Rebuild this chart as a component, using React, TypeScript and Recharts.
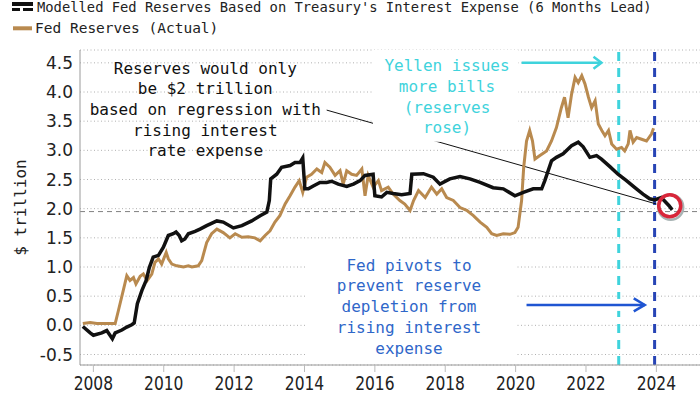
import React from 'react';
import { LineChart, Line, XAxis, YAxis, CartesianGrid, ReferenceLine, ReferenceDot, Label } from 'recharts';

const modelYears = [2007.70, 2007.91, 2008.0, 2008.24, 2008.38, 2008.54, 2008.62, 2008.81, 2008.95, 2009.09, 2009.16, 2009.25, 2009.38, 2009.5, 2009.59, 2009.7, 2009.85, 2009.99, 2010.13, 2010.27, 2010.35, 2010.44, 2010.51, 2010.6, 2010.7, 2010.89, 2011.03, 2011.22, 2011.51, 2011.69, 2011.98, 2012.22, 2012.5, 2012.74, 2012.93, 2013.0, 2013.04, 2013.21, 2013.35, 2013.59, 2013.73, 2013.87, 2013.95, 2014.01, 2014.11, 2014.25, 2014.44, 2014.63, 2014.77, 2014.96, 2015.2, 2015.39, 2015.58, 2015.72, 2015.95, 2016.0, 2016.19, 2016.34, 2016.52, 2016.76, 2017.0, 2017.05, 2017.38, 2017.66, 2017.85, 2018.13, 2018.42, 2018.7, 2018.99, 2019.36, 2019.65, 2019.98, 2020.22, 2020.5, 2020.74, 2020.83, 2021.02, 2021.16, 2021.35, 2021.59, 2021.78, 2021.92, 2022.11, 2022.3, 2022.44, 2022.68, 2022.91, 2023.15, 2023.39, 2023.62, 2023.81, 2023.95, 2024.14, 2024.36, 2024.45];
const modelValues = [-0.02, -0.13, -0.17, -0.13, -0.09, -0.23, -0.13, -0.08, -0.03, 0.01, 0.04, 0.37, 0.6, 0.77, 0.99, 1.17, 1.2, 1.34, 1.54, 1.57, 1.6, 1.54, 1.45, 1.48, 1.57, 1.61, 1.65, 1.71, 1.79, 1.77, 1.67, 1.71, 1.79, 1.88, 1.94, 2.14, 2.51, 2.59, 2.71, 2.74, 2.79, 2.79, 2.87, 2.34, 2.34, 2.39, 2.45, 2.45, 2.47, 2.42, 2.38, 2.42, 2.48, 2.57, 2.59, 2.22, 2.2, 2.28, 2.26, 2.24, 2.26, 2.59, 2.6, 2.54, 2.42, 2.51, 2.55, 2.51, 2.45, 2.36, 2.34, 2.22, 2.28, 2.34, 2.34, 2.48, 2.82, 2.88, 2.94, 3.08, 3.14, 3.06, 2.88, 2.91, 2.85, 2.72, 2.59, 2.48, 2.36, 2.25, 2.17, 2.15, 2.19, 2.05, 1.98];

const actualYears = [2007.70, 2007.91, 2008.1, 2008.38, 2008.62, 2008.71, 2008.85, 2008.95, 2009.04, 2009.14, 2009.21, 2009.33, 2009.42, 2009.53, 2009.66, 2009.75, 2009.85, 2009.94, 2010.07, 2010.13, 2010.23, 2010.37, 2010.56, 2010.7, 2010.8, 2010.98, 2011.08, 2011.22, 2011.36, 2011.51, 2011.69, 2011.88, 2012.03, 2012.22, 2012.4, 2012.59, 2012.74, 2012.88, 2013.02, 2013.16, 2013.3, 2013.45, 2013.59, 2013.73, 2013.85, 2013.95, 2014.06, 2014.2, 2014.35, 2014.49, 2014.58, 2014.72, 2014.87, 2015.01, 2015.1, 2015.2, 2015.34, 2015.48, 2015.63, 2015.72, 2015.81, 2015.95, 2016.1, 2016.19, 2016.38, 2016.52, 2016.71, 2016.85, 2017.0, 2017.1, 2017.24, 2017.43, 2017.61, 2017.76, 2017.9, 2018.04, 2018.23, 2018.42, 2018.61, 2018.8, 2018.99, 2019.18, 2019.32, 2019.46, 2019.65, 2019.84, 2019.98, 2020.07, 2020.17, 2020.23, 2020.31, 2020.4, 2020.48, 2020.55, 2020.69, 2020.88, 2021.02, 2021.16, 2021.3, 2021.39, 2021.49, 2021.59, 2021.69, 2021.78, 2021.88, 2021.97, 2022.07, 2022.16, 2022.26, 2022.35, 2022.45, 2022.54, 2022.64, 2022.73, 2022.87, 2023.01, 2023.1, 2023.2, 2023.25, 2023.34, 2023.44, 2023.58, 2023.72, 2023.86, 2023.92];
const actualValues = [0.03, 0.05, 0.03, 0.03, 0.03, 0.25, 0.6, 0.85, 0.77, 0.82, 0.71, 0.84, 0.88, 0.77, 0.88, 1.08, 1.14, 1.05, 1.25, 1.14, 1.05, 1.02, 1.0, 1.02, 1.0, 1.02, 1.11, 1.42, 1.57, 1.65, 1.59, 1.5, 1.57, 1.51, 1.52, 1.5, 1.45, 1.54, 1.62, 1.77, 1.88, 2.08, 2.22, 2.37, 2.48, 2.28, 2.54, 2.59, 2.68, 2.62, 2.79, 2.71, 2.57, 2.65, 2.42, 2.65, 2.59, 2.57, 2.68, 2.22, 2.57, 2.37, 2.48, 2.31, 2.37, 2.25, 2.14, 2.08, 1.97, 2.14, 2.31, 2.19, 2.37, 2.25, 2.34, 2.19, 2.14, 2.02, 1.97, 1.88, 1.77, 1.68, 1.57, 1.54, 1.57, 1.56, 1.59, 1.68, 2.14, 2.71, 3.16, 3.34, 3.16, 2.85, 2.91, 2.99, 3.16, 3.39, 3.73, 3.91, 3.56, 3.96, 4.25, 4.16, 4.28, 4.14, 3.91, 3.73, 3.85, 3.45, 3.34, 3.25, 3.34, 3.11, 3.02, 3.05, 2.99, 3.11, 3.34, 3.14, 3.22, 3.19, 3.16, 3.28, 3.38];

const yearTicks = [2008, 2010, 2012, 2014, 2016, 2018, 2020, 2022, 2024];
const valueTicks = [-0.5, 0, 0.5, 1, 1.5, 2, 2.5, 3, 3.5, 4, 4.5];
const legendLabels = ["Modelled Fed Reserves Based on Treasury's Interest Expense (6 Months Lead)", 'Fed Reserves (Actual)'];
const yAxisTitle = '$ trillion';
const reservesNote = ['Reserves would only', 'be $2 trillion', 'based on regression with', 'rising interest', 'rate expense'];
const yellenNote = ['Yellen issues', 'more bills', '(reserves', 'rose)'];
const fedNote = ['Fed pivots to', 'prevent reserve', 'depletion from', 'rising interest', 'expense'];
const yellenDate = 2022.93;
const pivotDate = 2023.95;
const currentLevel = 1.95;

const modelData = modelYears.map((t, i) => ({ t, v: modelValues[i] }));
const actualData = actualYears.map((t, i) => ({ t, v: actualValues[i] }));

const MONO = '"DejaVu Sans Mono", monospace';
const SANS = '"DejaVu Sans", sans-serif';
const BLACK = '#111';
const BROWN = '#b98a4f';
const CYAN = '#3fd3dc';
const BLUE_TEXT = '#2f67c9';
const BLUE_LINE = '#2744b5';
const BLUE_ARROW = '#1f55d2';

const noteShape = (lines: string[], color: string, box?: [number, number, number, number]) => (p: any) => {
  const { cx, cy } = p;
  return (
    <g>
      {box && <rect x={cx + box[0]} y={cy + box[1]} width={box[2]} height={box[3]} fill="#fff" />}
      {lines.map((s, i) => (
        <text key={i} x={cx} y={cy + i * 20.7} textAnchor="middle" dominantBaseline="central"
          fontFamily={MONO} fontSize={16} fill={color}>{s}</text>
      ))}
    </g>
  );
};

const arrowShape = (color: string, w: number, hw: number, hh: number) => (p: any) => {
  const { x1, y1, x2, y2 } = p;
  return (
    <g>
      <rect x={x1} y={y1 - 6} width={x2 - x1 + 4} height={12} fill="#fff" />
      <line x1={x1} y1={y1} x2={x2} y2={y2} stroke={color} strokeWidth={w} />
      <polyline points={`${x2 - hw},${y2 - hh} ${x2},${y2} ${x2 - hw},${y2 + hh}`} fill="none" stroke={color} strokeWidth={w} />
    </g>
  );
};

const circleShape = (p: any) => {
  const { cx, cy } = p;
  return (
    <g>
      <circle cx={cx + 1} cy={cy + 1.5} r={12.5} fill="none" stroke="#a8b4b4" strokeWidth={2.5} />
      <circle cx={cx} cy={cy} r={11} fill="none" stroke="#d8263a" strokeWidth={3.5} />
    </g>
  );
};

const XTick = (p: any) => {
  const { x, y, payload } = p;
  return (
    <g transform={`translate(${x},${y})`}>
      <text transform="scale(1,1.25)" x={0} y={12.4} textAnchor="middle" fontFamily={SANS} fontSize={15.5} fill="#222">
        {payload.value}
      </text>
    </g>
  );
};

const YTitle = (p: any) => {
  const vb = p.viewBox || { x: 0, y: 50, width: 80, height: 315 };
  const cx = 20;
  const cy = vb.y + vb.height / 2;
  return (
    <text x={cx} y={cy} transform={`rotate(-90 ${cx} ${cy})`} textAnchor="middle" dominantBaseline="central"
      fontFamily={MONO} fontSize={16} fill="#222">{yAxisTitle}</text>
  );
};

export default function App() {
  return (
    <div style={{ position: 'absolute', left: 0, top: 0, width: 700, height: 394, background: '#fff', overflow: 'hidden' }}>
      <LineChart width={700} height={394} data={modelData} margin={{ top: 50, right: 0, bottom: 0, left: 0 }}>
        <CartesianGrid vertical={false} stroke="#b0b0b0" strokeDasharray="1 2.5" />
        <XAxis dataKey="t" type="number" domain={[2007.62, 2025.24]} allowDataOverflow ticks={yearTicks}
          height={29} axisLine={{ stroke: '#9a9a9a' }} tickLine={{ stroke: '#bbb' }} tickSize={7} tickMargin={2}
          tick={<XTick />} interval={0} />
        <YAxis type="number" domain={[-0.68, 4.72]} allowDataOverflow ticks={valueTicks} width={80}
          axisLine={{ stroke: '#9a9a9a' }} tickLine={false} tickSize={0} tickMargin={7} interval={0}
          tickFormatter={(v: number) => v.toFixed(1)}
          tick={{ fontFamily: SANS, fontSize: 17, fill: '#222' }}>
          <Label content={<YTitle />} />
        </YAxis>
        <ReferenceDot x={2018.05} y={4.45} r={0} ifOverflow="visible" shape={noteShape(yellenNote, CYAN, [-74, -16, 145, 92])} />
        <ReferenceDot x={2016.97} y={1.03} r={0} ifOverflow="visible" shape={noteShape(fedNote, BLUE_TEXT, [-102, -15, 208, 112])} />
        <ReferenceDot x={2011.18} y={4.41} r={0} ifOverflow="visible" shape={noteShape(reservesNote, BLACK)} />
        <ReferenceLine y={currentLevel} stroke="#808080" strokeWidth={1} strokeDasharray="5 4" />
        <ReferenceLine x={yellenDate} stroke={CYAN} strokeWidth={3} strokeDasharray="9 7" />
        <ReferenceLine x={pivotDate} stroke={BLUE_LINE} strokeWidth={3} strokeDasharray="9 7" />
        <ReferenceLine segment={[{ x: 2014.63, y: 3.69 }, { x: 2024.0, y: 2.08 }]} stroke={BLACK} strokeWidth={1} ifOverflow="visible" />
        <ReferenceLine segment={[{ x: 2020.17, y: 4.5 }, { x: 2022.44, y: 4.5 }]} ifOverflow="visible" shape={arrowShape(CYAN, 2.5, 8, 6)} />
        <ReferenceLine segment={[{ x: 2020.31, y: 0.35 }, { x: 2023.67, y: 0.35 }]} ifOverflow="visible" shape={arrowShape(BLUE_ARROW, 2.5, 11, 6.5)} />
        <Line data={actualData} dataKey="v" type="linear" stroke={BROWN} strokeWidth={3} dot={false} isAnimationActive={false} />
        <Line data={modelData} dataKey="v" type="linear" stroke={BLACK} strokeWidth={3.5} dot={false} isAnimationActive={false} />
        <ReferenceDot x={2024.38} y={2.05} r={0} ifOverflow="visible" shape={circleShape} />
      </LineChart>
      <svg width={700} height={45} style={{ position: 'absolute', left: 0, top: 0, pointerEvents: 'none' }}>
        <rect x={12} y={2} width={21} height={4} fill={BLACK} />
        <rect x={12} y={8} width={8} height={3} fill={BLACK} />
        <rect x={23} y={8} width={10} height={3} fill={BLACK} />
        <text x={37} y={11.7} fontFamily={MONO} fontSize={13.8} fill="#222">{legendLabels[0]}</text>
        <line x1={13} y1={28.3} x2={32} y2={28.3} stroke={BROWN} strokeWidth={4} />
        <text x={35} y={33} fontFamily={MONO} fontSize={14.5} fill="#222">{legendLabels[1]}</text>
      </svg>
    </div>
  );
}
